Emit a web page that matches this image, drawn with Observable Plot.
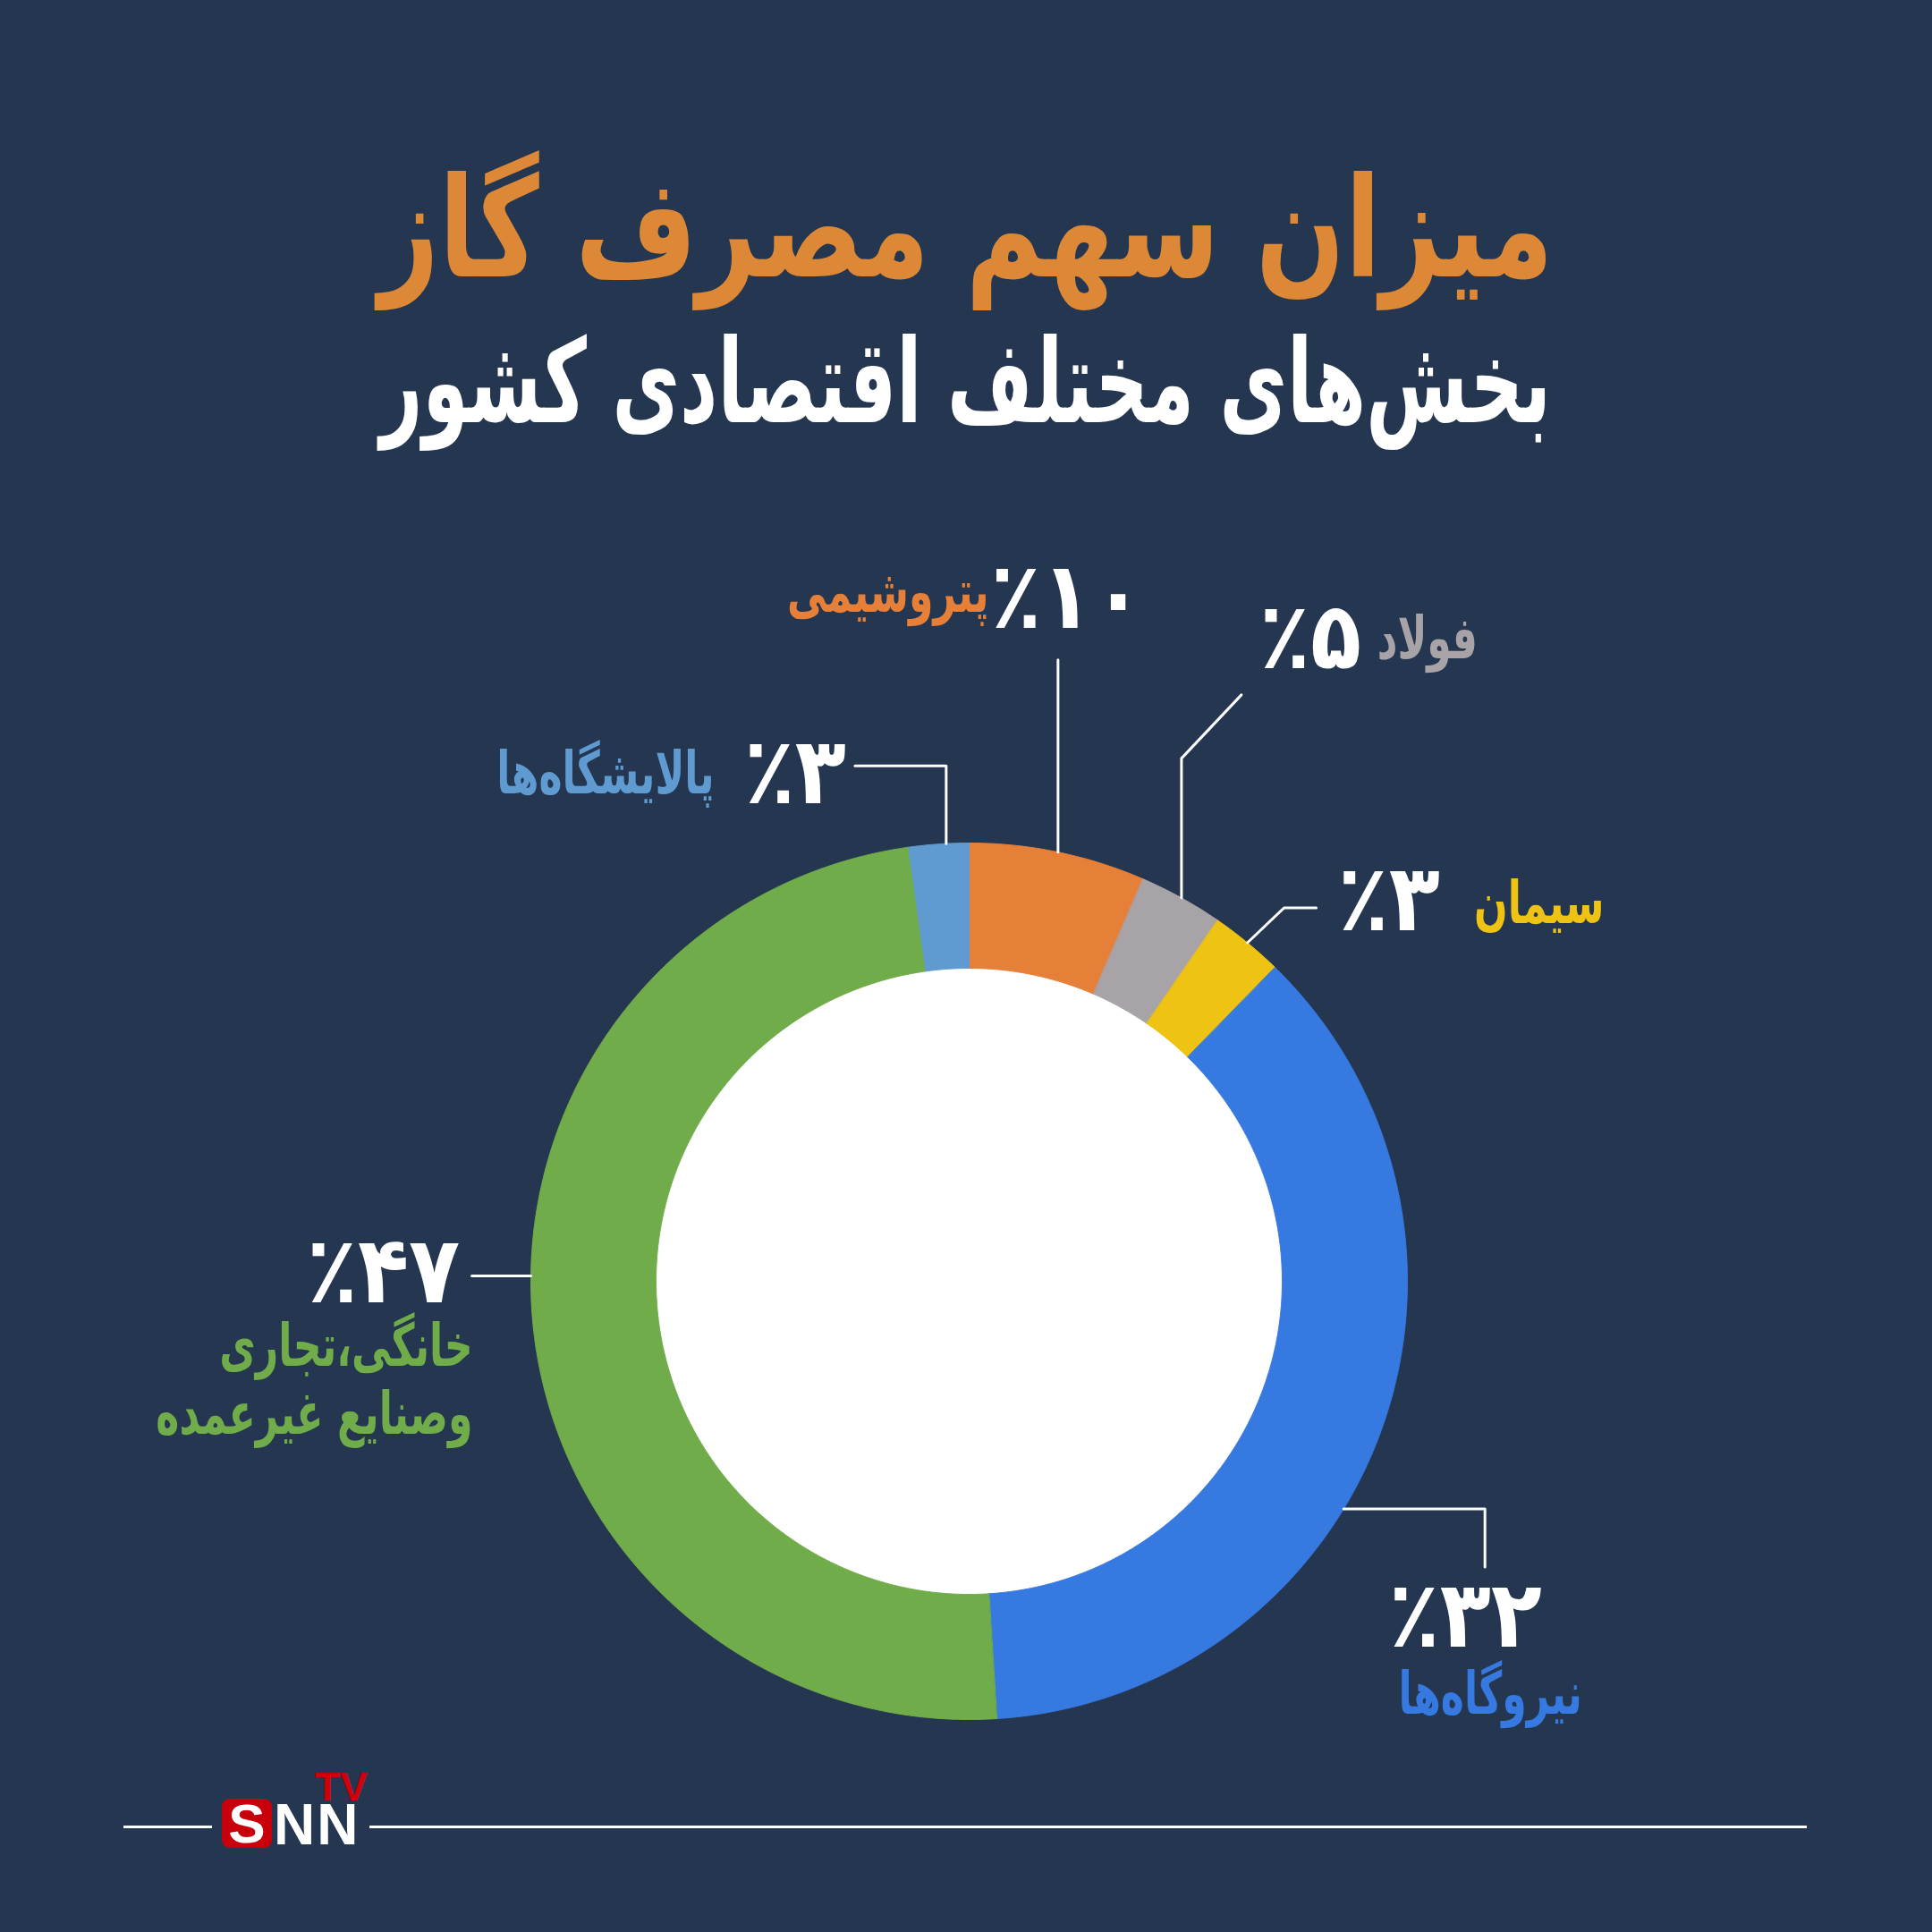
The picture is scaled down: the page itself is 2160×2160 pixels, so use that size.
<!DOCTYPE html>
<html lang="fa">
<head>
<meta charset="utf-8">
<script src="https://cdn.jsdelivr.net/npm/d3@7"></script>
<script src="https://cdn.jsdelivr.net/npm/@observablehq/plot@0.6"></script>
<style>
  html, body { margin: 0; padding: 0; background: #243650; }
  #page { position: relative; width: 2160px; height: 2160px; background: #243650; overflow: hidden;
          font-family: "DejaVu Sans", "Noto Sans", sans-serif; }
  .head { position: absolute; left: 0; width: 2160px; text-align: center; font-weight: bold;
          line-height: 1; direction: rtl; white-space: nowrap; }
  .head span { display: inline-block; transform-origin: 50% 50%; }
  #title { top: 178px; color: #DC8836; font-size: 155px; }
  #subtitle { top: 362px; color: #FFFFFF; font-size: 130px; }
  #chart { position: absolute; left: 0; top: 560px; width: 2160px; height: 1400px; }
  .rule { position: absolute; top: 2041px; height: 3px; background: #FFFFFF; }
  #logoS { position: absolute; left: 248px; top: 2011px; width: 56px; height: 55px; background: #C8000B;
           border-radius: 9px; color: #fff; font: bold 62px "Liberation Sans", sans-serif; text-align: center; line-height: 55px; }
  #logoNN { position: absolute; left: 306px; top: 2008px; color: #fff; font: bold 64px "Liberation Sans Narrow", "Liberation Sans", sans-serif;
            line-height: 64px; transform-origin: left top; letter-spacing: 2px; }
  #logoTV { position: absolute; left: 352px; top: 1976px; color: #D0000B; font: bold 44px "Liberation Sans Narrow", "Liberation Sans", sans-serif;
            line-height: 44px; transform-origin: left top; transform: scaleX(1.05); }
</style>
</head>
<body>
<div id="page">
  <div id="title" class="head"><span>میزان سهم مصرف گاز</span></div>
  <div id="subtitle" class="head"><span>بخش‌های مختلف اقتصادی کشور</span></div>
  <div id="chart"></div>
  <div class="rule" style="left:138px;width:99px"></div>
  <div class="rule" style="left:413px;width:1607px"></div>
  <div id="logoS">S</div>
  <div id="logoNN">NN</div>
  <div id="logoTV">TV</div>
</div>
<script>
// ---------------- data ----------------
const categories = ["پتروشیمی", "فولاد", "سیمان", "نیروگاه‌ها", "خانگی، تجاری و صنایع غیرعمده", "پالایشگاه‌ها"];
// percentages printed on the chart
const labelPercent = ["٪۱۰", "٪۵", "٪۳", "٪۳۲", "٪۴۷", "٪۳"];
// slice shares as drawn in the picture (clockwise from 12 o'clock)
const sliceShare = [6.5, 3.1, 2.7, 36.7, 48.8, 2.2];
// name text lines for each category
const nameLines = [["پتروشیمی"], ["فولاد"], ["سیمان"], ["نیروگاه‌ها"], ["خانگی،تجاری", "وصنایع غیرعمده"], ["پالایشگاه‌ها"]];
const sliceColors = ["#E67F37", "#A8A3A6", "#EEC314", "#3679E0", "#71AC4A", "#5F9BD0"];

// ---------------- layout ----------------
const W = 2160, H = 1400;
const cx = 1083, cy = 872;           // donut centre inside the svg (px)
const outerR = 490, innerR = 350;
// leader: start angle on ring (deg, null = slice middle) and successive pixel steps
const leaderAngle = [null, null, null, 121.3, 270.7, -3];
const leaderSteps = [[[0, -215]], [[0, -156], [67, -71]], [[41, -39], [36, 0]], [[158, 0], [0, 65]], [[-66, 0]], [[0, -87], [-102, 0]]];
const numberOffset = [[10, -69], [77, -63], [81, -8], [-22, 56], [-99, -4], [-67, 9]];
const nameOffset = [[-190, -75], [208, -62], [249, -4], [6, 143], [1, 79], [-279, 10]];
const nameLineGap = 76;
const titleWidth = 1313, subtitleWidth = 1309;
const numberSqueeze = 0.9, nameSqueeze = 0.67;

// ---------------- geometry ----------------
const arcs = d3.pie().sort(null).value(d => d).startAngle(0).endAngle(2 * Math.PI)(sliceShare);
const pt = (r, a) => [r * Math.sin(a), -r * Math.cos(a)];
const ring = [];
arcs.forEach((a, i) => {
  const n = Math.max(2, Math.ceil((a.endAngle - a.startAngle) / (Math.PI / 720)));
  for (let k = 0; k <= n; k++) {
    const t = a.startAngle + (a.endAngle - a.startAngle) * k / n;
    const [x, y] = pt(outerR, t); ring.push({cat: categories[i], x, y});
  }
  for (let k = n; k >= 0; k--) {
    const t = a.startAngle + (a.endAngle - a.startAngle) * k / n;
    const [x, y] = pt(innerR, t); ring.push({cat: categories[i], x, y});
  }
});

const leaders = [], numbers = [], names = [], namesRight = [];
arcs.forEach((a, i) => {
  const ang = leaderAngle[i] == null ? (a.startAngle + a.endAngle) / 2 : leaderAngle[i] * Math.PI / 180;
  let [x, y] = pt(outerR, ang);
  leaders.push({key: i, x, y});
  for (const [dx, dy] of leaderSteps[i]) { x += dx; y += dy; leaders.push({key: i, x, y}); }
  numbers.push({x: x + numberOffset[i][0], y: y + numberOffset[i][1], text: labelPercent[i]});
  nameLines[i].forEach((line, j) => {
    const row = {cat: categories[i], x: x + nameOffset[i][0], y: y + nameOffset[i][1] + j * nameLineGap, text: line};
    (nameLines[i].length > 1 ? namesRight : names).push(row);
  });
});

const font = "DejaVu Sans, Noto Sans, sans-serif";
const chart = Plot.plot({
  width: W, height: H, margin: 0,
  style: {background: "transparent", fontFamily: font, overflow: "visible"},
  x: {domain: [-cx, W - cx], range: [0, W], axis: null},
  y: {domain: [-cy, H - cy], range: [0, H], axis: null},
  color: {domain: categories, range: sliceColors},
  marks: [
    Plot.dot([{x: 0, y: 0}], {x: "x", y: "y", r: innerR + 2, fill: "#FFFFFF", stroke: "none"}),
    Plot.line(ring, {x: "x", y: "y", z: "cat", fill: "cat", stroke: "cat", strokeWidth: 1, curve: "linear-closed"}),
    Plot.line(leaders, {x: "x", y: "y", z: "key", stroke: "#FFFFFF", strokeWidth: 3, curve: "linear"}),
    Plot.text(numbers, {x: "x", y: "y", text: "text", fill: "#FFFFFF", fontSize: 104, fontWeight: "bold"}),
    Plot.text(names, {x: "x", y: "y", text: "text", fill: "cat", fontSize: 66, fontWeight: "bold"}),
    Plot.text(namesRight, {x: "x", y: "y", text: "text", fill: "cat", fontSize: 66, fontWeight: "bold", textAnchor: "end"})
  ]
});
document.getElementById("chart").appendChild(chart);

// horizontally condense texts around their anchor (the reference uses a condensed face)
function squeeze(g, s) {
  g.querySelectorAll("text").forEach(t => {
    const tr = t.getAttribute("transform");
    if (tr) t.setAttribute("transform", tr + ` scale(${s},1)`);
    else {
      const x = +t.getAttribute("x") || 0;
      t.setAttribute("transform", `translate(${x},0) scale(${s},1) translate(${-x},0)`);
    }
  });
}
const textGroups = chart.querySelectorAll('g[aria-label="text"]');
squeeze(textGroups[0], numberSqueeze);
squeeze(textGroups[1], nameSqueeze);
squeeze(textGroups[2], nameSqueeze);

// fit headings to the reference widths
function fit(id, target) {
  const span = document.querySelector(`#${id} span`);
  const w = span.getBoundingClientRect().width;
  span.style.transform = `scaleX(${target / w})`;
}
fit("title", titleWidth);
fit("subtitle", subtitleWidth);
</script>
</body>
</html>
